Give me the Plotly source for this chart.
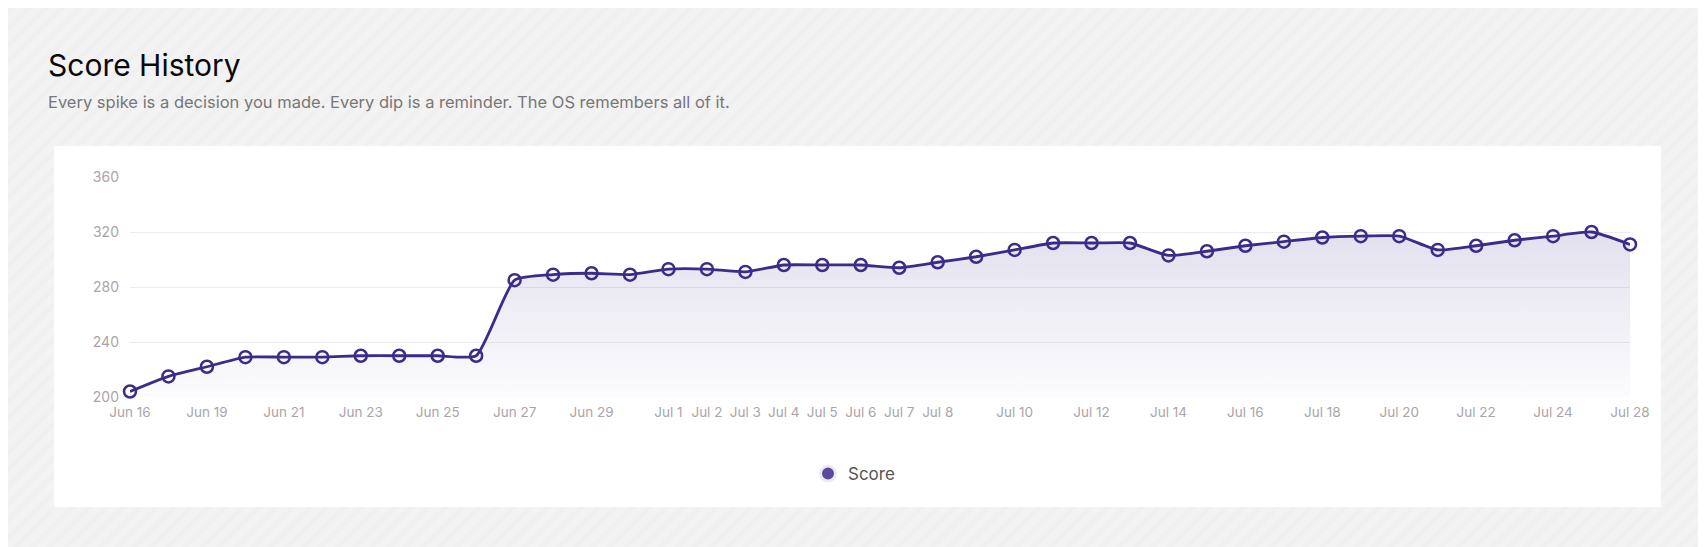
import base64
import plotly.graph_objects as go

# Score history data (one point per logged day)
dates = [
    "Jun 16", "Jun 18", "Jun 19", "Jun 20", "Jun 21", "Jun 22", "Jun 23", "Jun 24",
    "Jun 25", "Jun 26", "Jun 27", "Jun 28", "Jun 29", "Jun 30", "Jul 1", "Jul 2",
    "Jul 3", "Jul 4", "Jul 5", "Jul 6", "Jul 7", "Jul 8", "Jul 9", "Jul 10",
    "Jul 11", "Jul 12", "Jul 13", "Jul 14", "Jul 15", "Jul 16", "Jul 17", "Jul 18",
    "Jul 19", "Jul 20", "Jul 21", "Jul 22", "Jul 23", "Jul 24", "Jul 26", "Jul 28",
]
scores = [
    204, 215, 222, 229, 229, 229, 230, 230,
    230, 230, 285, 289, 290, 289, 293, 293,
    291, 296, 296, 296, 294, 298, 302, 307,
    312, 312, 312, 303, 306, 310, 313, 316,
    317, 317, 307, 310, 314, 317, 320, 311,
]
shown_ticks = [
    "Jun 16", "Jun 19", "Jun 21", "Jun 23", "Jun 25", "Jun 27", "Jun 29",
    "Jul 1", "Jul 2", "Jul 3", "Jul 4", "Jul 5", "Jul 6", "Jul 7", "Jul 8",
    "Jul 10", "Jul 12", "Jul 14", "Jul 16", "Jul 18", "Jul 20", "Jul 22",
    "Jul 24", "Jul 28",
]
y_ticks = [200, 240, 280, 320, 360]

W, H = 1706, 547
OFF = 8  # page body margin
FONT = "Inter"
LINE = "#3d2b8a"
FILL = "91,74,158"
TICK = "#aaa5a8"

def px(x):
    return (x - OFF) / W

def py(y):
    return 1 - (y - OFF) / H

# subtle diagonal stripes for the page background
stripes = (
    f'<svg xmlns="http://www.w3.org/2000/svg" width="{W}" height="{H}">'
    '<defs><pattern id="p" width="12" height="12" patternUnits="userSpaceOnUse" '
    'patternTransform="rotate(45)"><rect width="12" height="12" fill="#f3f3f3"/>'
    '<rect width="5" height="12" fill="#f0f0f0"/></pattern></defs>'
    '<rect width="100%" height="100%" fill="url(#p)"/></svg>'
)
stripes_uri = "data:image/svg+xml;base64," + base64.b64encode(stripes.encode()).decode()

fig = go.Figure()

fig.add_trace(go.Scatter(
    x=dates, y=scores,
    mode="lines+markers",
    line=dict(color=LINE, width=2.8, shape="spline", smoothing=0.5),
    marker=dict(symbol="circle-open", size=12, color=LINE, line=dict(width=2.5)),
    fill="tozeroy",
    fillgradient=dict(
        type="vertical", start=200, stop=320,
        colorscale=[[0, f"rgba({FILL},0.02)"], [1, f"rgba({FILL},0.17)"]],
    ),
    cliponaxis=False,
    showlegend=False,
    hoverinfo="x+y",
))

# legend entry (filled dot like the original)
fig.add_trace(go.Scatter(
    x=[None], y=[None], mode="markers", name="Score",
    marker=dict(symbol="circle", size=15, color="#5b4a9e",
                line=dict(color="#ececf0", width=3)),
))

fig.update_layout(
    width=W, height=H,
    margin=dict(l=0, r=0, t=0, b=0),
    paper_bgcolor="#f3f3f3",
    plot_bgcolor="rgba(0,0,0,0)",
    font=dict(family=FONT, color="#555"),
    xaxis=dict(
        domain=[px(130), px(1630)],
        type="category",
        categoryorder="array", categoryarray=dates,
        range=[0, len(dates) - 1],
        tickmode="array", tickvals=shown_ticks, ticktext=shown_ticks,
        showgrid=False, zeroline=False, showline=False,
        ticks="", ticklabelstandoff=5,
        tickfont=dict(size=13.5, color=TICK),
        automargin=False, fixedrange=True,
    ),
    yaxis=dict(
        domain=[py(397), py(177)],
        range=[200, 360],
        tickmode="array", tickvals=y_ticks,
        showgrid=True, gridcolor="#ebebf0", gridwidth=1,
        zeroline=False, showline=False,
        ticks="", ticklabelstandoff=10,
        tickfont=dict(size=14, color=TICK),
        automargin=False, fixedrange=True,
    ),
    legend=dict(
        orientation="h", x=px(808), y=py(474),
        xanchor="left", yanchor="middle",
        font=dict(size=17, color="#555"),
        bgcolor="rgba(0,0,0,0)",
    ),
    images=[dict(
        source=stripes_uri, xref="paper", yref="paper",
        x=0, y=1, sizex=1, sizey=1,
        xanchor="left", yanchor="top", sizing="stretch", layer="below",
    )],
    shapes=[dict(
        type="rect", xref="paper", yref="paper", layer="below",
        x0=px(54), x1=px(1661), y0=py(507), y1=py(146),
        fillcolor="white", line=dict(width=0),
    )],
    annotations=[
        dict(text="Score History", xref="paper", yref="paper",
             x=px(46), y=py(65), xanchor="left", yanchor="middle",
             showarrow=False, font=dict(size=30, color="#0a0a0a", family=FONT)),
        dict(text="Every spike is a decision you made. Every dip is a reminder. The OS remembers all of it.",
             xref="paper", yref="paper",
             x=px(46), y=py(102), xanchor="left", yanchor="middle",
             showarrow=False, font=dict(size=16.5, color="#777", family=FONT)),
    ],
)

fig.write_html("out.html")
